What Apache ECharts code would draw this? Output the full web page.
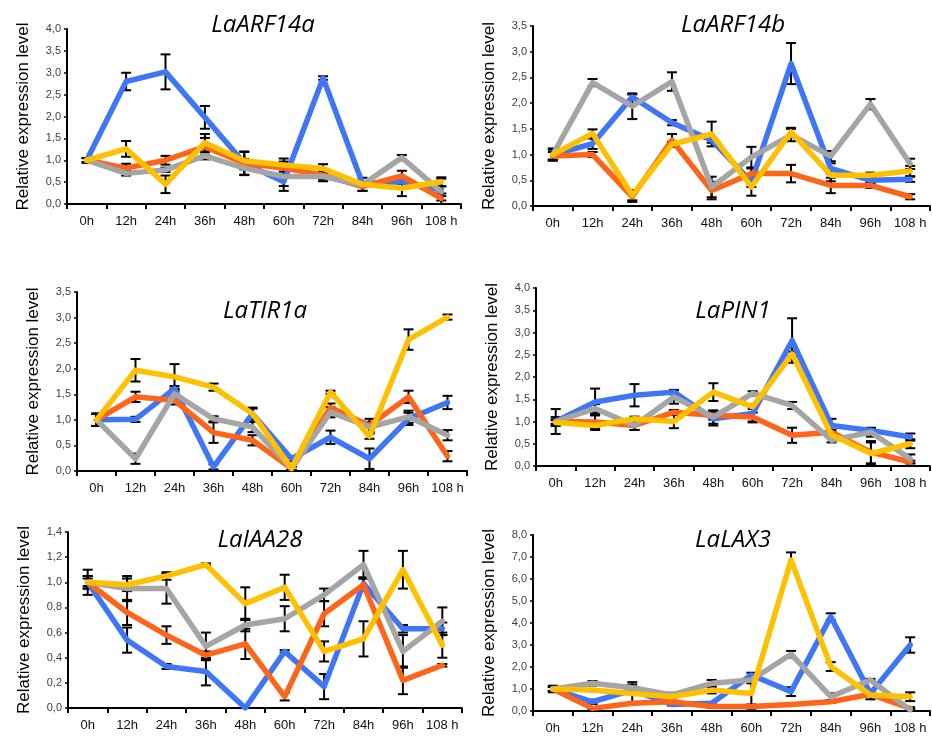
<!DOCTYPE html>
<html><head><meta charset="utf-8">
<script src="https://cdn.jsdelivr.net/npm/echarts@6/dist/echarts.min.js"></script>
<style>html,body{margin:0;padding:0;background:#fff}#c{width:932px;height:738px}</style>
</head><body><div id="c"></div>
<script>
// ---------- DATA ----------
const categories = ['0h','12h','24h','36h','48h','60h','72h','84h','96h','108 h'];
const genes = ['LaARF14a','LaARF14b','LaTIR1a','LaPIN1','LaIAA28','LaLAX3'];
const yMax = [4, 3.5, 3.5, 4, 1.4, 8];
const yStep = [0.5, 0.5, 0.5, 0.5, 0.2, 1];

// LaARF14a
const arf14a_blue   = [1.00,2.80,3.02,1.98,0.93,0.51,2.88,0.47,0.51,0.32];
const arf14a_orange = [1.00,0.82,1.00,1.31,0.93,0.82,0.66,0.40,0.64,0.13];
const arf14a_gray   = [1.00,0.70,0.78,1.10,0.82,0.63,0.63,0.44,1.06,0.28];
const arf14a_yellow = [1.00,1.26,0.45,1.40,0.99,0.89,0.81,0.45,0.36,0.51];
const arf14a_blue_err   = [0.05,0.20,0.40,0.26,0.10,0.10,0.04,0.05,0.05,0.08];
const arf14a_orange_err = [0.05,0.10,0.10,0.20,0.27,0.15,0.10,0.10,0.12,0.05];
const arf14a_gray_err   = [0.05,0.05,0.05,0.08,0.15,0.33,0.11,0.05,0.06,0.30];
const arf14a_yellow_err = [0.05,0.18,0.20,0.20,0.20,0.15,0.10,0.15,0.18,0.10];

// LaARF14b
const arf14b_blue   = [1.00,1.21,2.12,1.62,1.28,0.47,2.77,0.73,0.50,0.52];
const arf14b_orange = [0.97,1.00,0.18,1.28,0.30,0.63,0.63,0.40,0.40,0.18];
const arf14b_gray   = [1.00,2.40,1.94,2.42,0.37,0.95,1.38,0.97,1.98,0.82];
const arf14b_yellow = [1.00,1.41,0.21,1.20,1.40,0.37,1.44,0.60,0.60,0.68];
const arf14b_blue_err   = [0.10,0.10,0.05,0.05,0.05,0.10,0.40,0.10,0.05,0.05];
const arf14b_orange_err = [0.08,0.05,0.10,0.12,0.17,0.10,0.17,0.15,0.05,0.05];
const arf14b_gray_err   = [0.12,0.07,0.25,0.18,0.20,0.20,0.12,0.10,0.10,0.10];
const arf14b_yellow_err = [0.10,0.08,0.10,0.05,0.24,0.17,0.08,0.12,0.05,0.10];

// LaTIR1a
const tir1a_blue   = [1.00,1.01,1.61,0.08,1.12,0.24,0.66,0.24,1.02,1.34];
const tir1a_orange = [1.00,1.45,1.38,0.75,0.60,0.05,1.24,0.89,1.45,0.29];
const tir1a_gray   = [1.00,0.24,1.51,1.02,0.86,0.05,1.15,0.86,1.06,0.70];
const tir1a_yellow = [1.00,1.97,1.84,1.64,1.12,0.05,1.54,0.68,2.57,3.01];
const tir1a_blue_err   = [0.12,0.05,0.05,0.05,0.12,0.05,0.13,0.20,0.12,0.13];
const tir1a_orange_err = [0.12,0.10,0.08,0.20,0.10,0.03,0.08,0.13,0.12,0.10];
const tir1a_gray_err   = [0.12,0.10,0.10,0.05,0.10,0.03,0.10,0.10,0.12,0.10];
const tir1a_yellow_err = [0.12,0.22,0.25,0.07,0.10,0.03,0.03,0.05,0.20,0.05];

// LaPIN1
const pin1_blue   = [1.00,1.44,1.59,1.66,1.06,1.18,2.82,0.91,0.80,0.65];
const pin1_orange = [1.00,0.99,0.91,1.21,1.14,1.10,0.69,0.76,0.31,0.09];
const pin1_gray   = [1.00,1.29,0.91,1.55,1.10,1.63,1.36,0.58,0.76,0.16];
const pin1_yellow = [0.98,0.91,1.06,1.00,1.66,1.33,2.52,0.70,0.28,0.50];
const pin1_blue_err   = [0.10,0.30,0.25,0.05,0.15,0.20,0.50,0.15,0.05,0.08];
const pin1_orange_err = [0.05,0.15,0.10,0.05,0.10,0.10,0.17,0.05,0.25,0.03];
const pin1_gray_err   = [0.28,0.10,0.10,0.15,0.15,0.05,0.08,0.05,0.10,0.10];
const pin1_yellow_err = [0.05,0.10,0.05,0.15,0.20,0.05,0.05,0.05,0.25,0.10];

// LaIAA28
const iaa28_blue   = [1.00,0.54,0.33,0.29,0.00,0.45,0.17,0.99,0.63,0.63];
const iaa28_orange = [1.00,0.76,0.58,0.42,0.51,0.09,0.75,0.98,0.22,0.34];
const iaa28_gray   = [1.00,0.95,0.95,0.49,0.66,0.71,0.90,1.14,0.45,0.69];
const iaa28_yellow = [1.00,0.98,1.05,1.14,0.83,0.96,0.45,0.55,1.10,0.50];
const iaa28_blue_err   = [0.05,0.10,0.02,0.11,0.00,0.01,0.10,0.05,0.03,0.05];
const iaa28_orange_err = [0.05,0.10,0.07,0.03,0.12,0.03,0.10,0.05,0.11,0.01];
const iaa28_gray_err   = [0.10,0.10,0.12,0.11,0.05,0.10,0.05,0.11,0.13,0.11];
const iaa28_yellow_err = [0.03,0.05,0.03,0.01,0.13,0.10,0.08,0.14,0.15,0.10];

// LaLAX3
const lax3_blue   = [1.00,0.42,0.95,0.30,0.35,1.64,0.88,4.29,0.80,3.00];
const lax3_orange = [1.00,0.12,0.35,0.42,0.20,0.20,0.30,0.42,0.76,0.12];
const lax3_gray   = [1.00,1.26,1.06,0.73,1.26,1.41,2.58,0.65,1.41,0.05];
const lax3_yellow = [1.00,0.95,0.80,0.65,0.95,0.80,6.86,2.02,0.73,0.65];
const lax3_blue_err   = [0.15,0.10,0.10,0.05,0.05,0.10,0.20,0.15,0.10,0.35];
const lax3_orange_err = [0.10,0.05,0.05,0.05,0.05,0.10,0.05,0.05,0.05,0.05];
const lax3_gray_err   = [0.10,0.10,0.25,0.10,0.15,0.15,0.15,0.15,0.05,0.05];
const lax3_yellow_err = [0.10,0.05,0.40,0.05,0.15,0.60,0.35,0.20,0.20,0.20];

const seriesNames = ['Series 1','Series 2','Series 3','Series 4'];
const panelValues = [
  [arf14a_blue, arf14a_orange, arf14a_gray, arf14a_yellow],
  [arf14b_blue, arf14b_orange, arf14b_gray, arf14b_yellow],
  [tir1a_blue, tir1a_orange, tir1a_gray, tir1a_yellow],
  [pin1_blue, pin1_orange, pin1_gray, pin1_yellow],
  [iaa28_blue, iaa28_orange, iaa28_gray, iaa28_yellow],
  [lax3_blue, lax3_orange, lax3_gray, lax3_yellow]
];
const panelErrors = [
  [arf14a_blue_err, arf14a_orange_err, arf14a_gray_err, arf14a_yellow_err],
  [arf14b_blue_err, arf14b_orange_err, arf14b_gray_err, arf14b_yellow_err],
  [tir1a_blue_err, tir1a_orange_err, tir1a_gray_err, tir1a_yellow_err],
  [pin1_blue_err, pin1_orange_err, pin1_gray_err, pin1_yellow_err],
  [iaa28_blue_err, iaa28_orange_err, iaa28_gray_err, iaa28_yellow_err],
  [lax3_blue_err, lax3_orange_err, lax3_gray_err, lax3_yellow_err]
];

// ---------- LAYOUT / STYLE ----------
const colors = ['#3F76F8','#FF6419','#A5A5A5','#FFC000'];
const gridBoxes = [
  {left:67,  top:29,  width:394, height:175},
  {left:533, top:26,  width:397, height:180},
  {left:77,  top:292, width:390, height:179},
  {left:536, top:288, width:394, height:178},
  {left:68,  top:532, width:394, height:176},
  {left:533, top:535, width:397, height:176}
];
const titlePos = [[263,24],[733,24],[265,310],[733,310],[260,539],[733,539]];

const chart = echarts.init(document.getElementById('c'), null, {renderer:'canvas'});
const option = {
  backgroundColor:'#ffffff',
  animation:false,
  title: genes.map((g,i)=>({
    text:g, left:titlePos[i][0], top:titlePos[i][1]-11, textAlign:'center', padding:0,
    textStyle:{fontFamily:'Open Sans', fontStyle:'italic', fontWeight:'normal', fontSize:24, color:'#000'}
  })),
  grid: gridBoxes.map(b=>Object.assign({containLabel:false}, b)),
  xAxis: gridBoxes.map((b,i)=>({
    type:'category', gridIndex:i, data:categories, boundaryGap:true,
    axisLine:{lineStyle:{color:'#000', width:2}},
    axisTick:{show:true, length:5, interval:0, lineStyle:{color:'#000', width:2}},
    axisLabel:{color:'#111', fontFamily:'Liberation Sans', fontSize:13, margin:11, interval:0},
    splitLine:{show:false}
  })),
  yAxis: gridBoxes.map((b,i)=>({
    type:'value', gridIndex:i, min:0, max:yMax[i], interval:yStep[i],
    name:'Relative expression level', nameLocation:'middle', nameGap:35, nameRotate:90,
    nameTextStyle:{fontFamily:'Liberation Sans', fontWeight:'normal', fontSize:17, color:'#000'},
    axisLine:{show:true, lineStyle:{color:'#000', width:2}},
    axisTick:{show:true, length:3, lineStyle:{color:'#000', width:1.5}},
    axisLabel:{color:'#404040', fontFamily:'Liberation Sans', fontSize:11, margin:6,
      formatter:v=>v.toFixed(1).replace('.',',')},
    splitLine:{show:false}
  })),
  series: []
};

panelValues.forEach((vals, p)=>{
  vals.forEach((arr, s)=>{
    const errs = panelErrors[p][s];
    option.series.push({
      type:'custom', name:seriesNames[s]+' error', xAxisIndex:p, yAxisIndex:p, silent:true,
      data: arr.map((v,k)=>[k, Math.max(0, v-errs[k]), v+errs[k]]),
      renderItem:(params, api)=>{
        const lo = api.coord([api.value(0), api.value(1)]);
        const hi = api.coord([api.value(0), api.value(2)]);
        const hw = 5;
        const st = {stroke:'#000', lineWidth:2};
        return {type:'group', children:[
          {type:'line', shape:{x1:lo[0], y1:lo[1], x2:hi[0], y2:hi[1]}, style:st},
          {type:'line', shape:{x1:hi[0]-hw, y1:hi[1], x2:hi[0]+hw, y2:hi[1]}, style:st},
          {type:'line', shape:{x1:lo[0]-hw, y1:lo[1], x2:lo[0]+hw, y2:lo[1]}, style:st}
        ]};
      },
      z:2
    });
    option.series.push({
      type:'line', name:seriesNames[s], xAxisIndex:p, yAxisIndex:p, data:arr,
      showSymbol:false, symbol:'none',
      lineStyle:{color:colors[s], width:5.5, join:'round', cap:'round'},
      itemStyle:{color:colors[s]}, z:2
    });
  });
});

chart.setOption(option);
</script></body></html>
